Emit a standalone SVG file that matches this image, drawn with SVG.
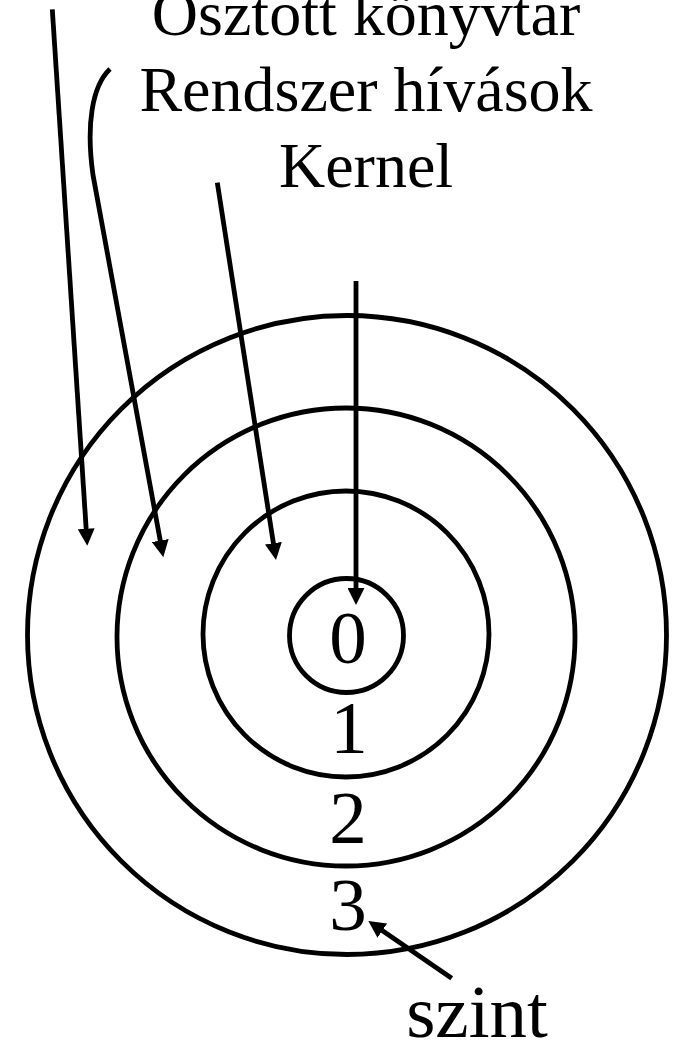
<svg xmlns="http://www.w3.org/2000/svg" width="677" height="1042" viewBox="0 0 677 1042">
<style>
.ring{fill:none;stroke:#000;stroke-width:4.8}
.conn{fill:none;stroke:#000;stroke-width:4.8}
.lbl{font-family:"Liberation Serif","Times New Roman",serif;font-size:64px;fill:#000;text-anchor:middle}
.num{font-family:"Liberation Serif","Times New Roman",serif;font-size:75px;fill:#000;text-anchor:middle}
</style>
<defs>
<marker id="ah" markerUnits="userSpaceOnUse" markerWidth="17" markerHeight="17" refX="2" refY="8.5" orient="auto" viewBox="0 0 17 17">
<path d="M0,0 L17,8.5 L0,17 z" fill="#000"/>
</marker>
</defs>
<rect width="677" height="1042" fill="#fff"/>
<g id="ring3"><circle class="ring" cx="347" cy="635" r="319.5"/><text class="num" x="348" y="930">3</text></g>
<g id="ring2"><circle class="ring" cx="346" cy="637" r="229"/><text class="num" x="348" y="843">2</text></g>
<g id="ring1"><circle class="ring" cx="346" cy="634" r="143"/><text class="num" x="349" y="753">1</text></g>
<g id="ring0"><circle class="ring" cx="346.5" cy="635.5" r="57"/><text class="num" x="348" y="663">0</text></g>
<g id="label-osztott"><text class="lbl" x="366" y="35">Osztott könyvtár</text></g>
<g id="label-rendszer"><text class="lbl" x="366" y="111">Rendszer hívások</text></g>
<g id="label-kernel"><text class="lbl" x="366" y="187">Kernel</text></g>
<g id="label-szint"><text class="num" x="477" y="1037">szint</text></g>
<g id="connectors">
<path class="conn" d="M52.3,9.3 L86.3,530.7" marker-end="url(#ah)"/>
<path class="conn" d="M110,69 C92,86 86,125 93,175 L160.6,542.5" marker-end="url(#ah)"/>
<path class="conn" d="M217.3,182.7 L273.7,545.2" marker-end="url(#ah)"/>
<path class="conn" d="M356,281 L356,590" marker-end="url(#ah)"/>
<path class="conn" d="M451.7,978.3 L380.7,929.5" marker-end="url(#ah)"/>
</g>
</svg>
